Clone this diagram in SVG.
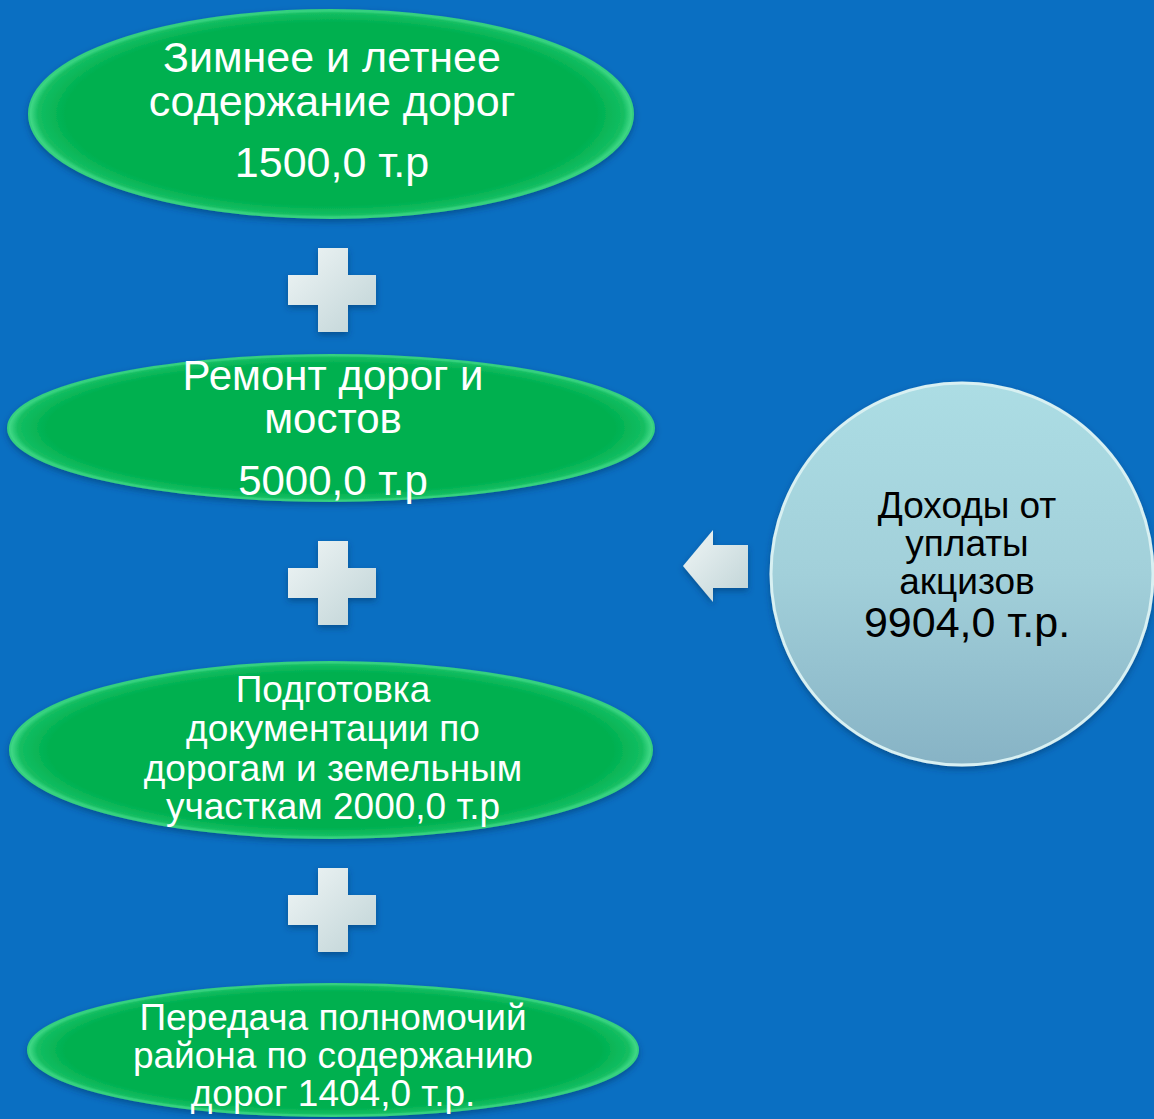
<svg xmlns="http://www.w3.org/2000/svg" width="1154" height="1119" viewBox="0 0 1154 1119">
<defs>
<radialGradient id="gEll" cx="50%" cy="50%" r="50%">
<stop offset="0.88" stop-color="#00B050"/>
<stop offset="0.97" stop-color="#14BE62"/>
<stop offset="1" stop-color="#48DC8C"/>
</radialGradient>
<linearGradient id="gCirc" x1="0" y1="0" x2="0" y2="1">
<stop offset="0" stop-color="#ACDDE4"/>
<stop offset="0.5" stop-color="#A2D0DA"/>
<stop offset="1" stop-color="#87B3C5"/>
</linearGradient>
<linearGradient id="gPlus" x1="0" y1="0" x2="1" y2="1">
<stop offset="0" stop-color="#F0F6F6"/>
<stop offset="1" stop-color="#BFD3D6"/>
</linearGradient>
<filter id="sh" x="-10%" y="-10%" width="120%" height="130%">
<feDropShadow dx="0" dy="3" stdDeviation="3" flood-color="#003060" flood-opacity="0.5"/>
</filter>
</defs>
<style>
.ell{fill:url(#gEll);stroke:#34D07F;stroke-width:2;filter:url(#sh)}
.t{font-family:"Liberation Sans",Arial,sans-serif;fill:#FFFFFF;text-anchor:middle}
.c{font-family:"Liberation Sans",Arial,sans-serif;fill:#000000;text-anchor:middle}
.plus{fill:url(#gPlus);filter:url(#sh)}
</style>
<rect width="1154" height="1119" fill="#0A6FC2"/>
<g id="node1">
<ellipse class="ell" cx="331" cy="114" rx="302" ry="104"/>
<text class="t" font-size="43"><tspan x="332" y="72">Зимнее и летнее</tspan><tspan x="332" y="116">содержание дорог</tspan><tspan x="332" y="177">1500,0 т.р</tspan></text>
</g>
<g id="node2">
<ellipse class="ell" cx="331" cy="428" rx="323" ry="73"/>
<text class="t" font-size="42"><tspan x="333" y="390">Ремонт дорог и</tspan><tspan x="333" y="433">мостов</tspan><tspan x="333" y="495">5000,0 т.р</tspan></text>
</g>
<g id="node3">
<ellipse class="ell" cx="331" cy="750" rx="321" ry="88"/>
<text class="t" font-size="37"><tspan x="333" y="702">Подготовка</tspan><tspan x="333" y="741">документации по</tspan><tspan x="333" y="781">дорогам и земельным</tspan><tspan x="333" y="819">участкам 2000,0 т.р</tspan></text>
</g>
<g id="node4">
<ellipse class="ell" cx="333" cy="1050" rx="305" ry="66"/>
<text class="t" font-size="37"><tspan x="333" y="1030">Передача полномочий</tspan><tspan x="333" y="1068">района по содержанию</tspan><tspan x="333" y="1106">дорог 1404,0 т.р.</tspan></text>
</g>
<g id="node5">
<circle cx="962" cy="574" r="191" fill="url(#gCirc)" stroke="#D8F0F2" stroke-width="3" filter="url(#sh)"/>
<text class="c" font-size="37"><tspan x="967" y="518">Доходы от</tspan><tspan x="967" y="556">уплаты</tspan><tspan x="967" y="594">акцизов</tspan><tspan x="967" y="637" font-size="43">9904,0 т.р.</tspan></text>
</g>
<g id="connectors">
<path class="plus" d="M318 248H348V275H376V305H348V332H318V305H288V275H318Z"/>
<path class="plus" d="M318 541H348V568H376V598H348V625H318V598H288V568H318Z"/>
<path class="plus" d="M318 868H348V895H376V925H348V952H318V925H288V895H318Z"/>
<path class="plus" d="M748 545V588H713V602L683 566L713 530V545Z"/>
</g>
</svg>
